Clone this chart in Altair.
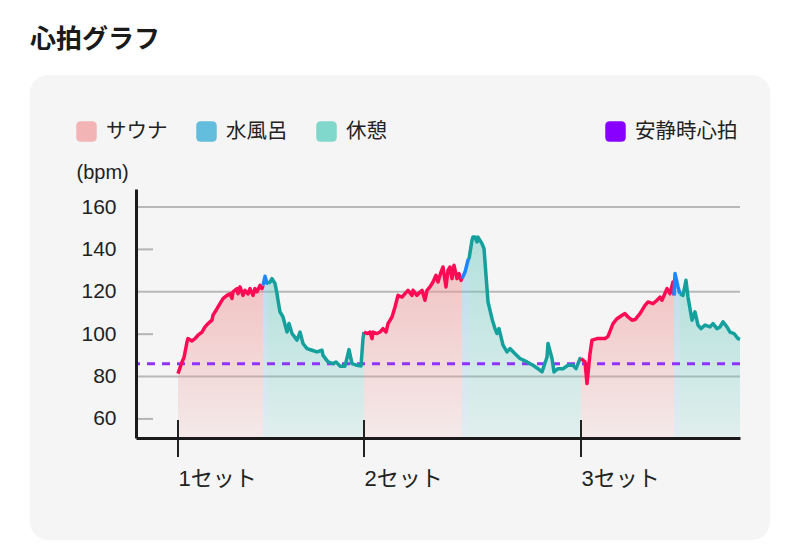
import altair as alt
import pandas as pd

FONT = "Liberation Sans, Noto Sans CJK JP, sans-serif"

# ---- categories / colours -------------------------------------------------
PHASES = ["サウナ", "水風呂", "休憩"]
LEGEND_COLORS = ["#f2b4b4", "#63bddc", "#80d7cb"]
LINE_COLORS = ["#ff0a54", "#1c86ff", "#14a09c"]
REST_LABEL = ["安静時心拍"]
REST_COLOR = ["#8800ff"]
RESTING_HR = 86

SET_LABELS = ["1セット", "2セット", "3セット"]
SET_STARTS = [0.0, 18.6, 40.3]

Y_TICKS = [60, 80, 100, 120, 140, 160]
GRID_VALUES = [80, 120, 160]
MINOR_VALUES = [60, 100, 140]

# ---- heart-rate series (minutes, bpm), one array pair per phase segment ---
S1_T = [0.0, 0.4, 0.6, 0.9, 1.0, 1.4, 1.7, 2.0, 2.4, 2.7, 3.0, 3.4, 3.5, 3.9, 4.2, 4.5, 4.9,
        5.2, 5.4, 5.5, 5.9, 6.0, 6.2, 6.5, 6.7, 7.0, 7.2, 7.5, 7.7, 7.9, 8.2, 8.4, 8.5]
S1_HR = [81.4, 86.9, 89.0, 96.3, 97.9, 96.8, 97.9, 99.5, 101.0, 103.4, 105.0, 106.6, 109.0,
         112.0, 114.4, 116.8, 118.3, 119.1, 116.8, 120.0, 121.5, 119.1, 122.3, 118.3, 120.7,
         119.0, 121.5, 118.3, 121.5, 120.0, 123.0, 121.5, 123.0]
W1_T = [8.5, 8.7, 8.9, 9.0]
W1_HR = [123.0, 127.3, 124.0, 124.0]
R1_T = [9.0, 9.2, 9.4, 9.7, 9.9, 10.0, 10.2, 10.5, 10.9, 11.1, 11.4, 11.9, 12.2, 12.5, 12.9,
        13.4, 13.9, 14.4, 14.5, 15.0, 15.5, 15.8, 16.2, 16.7, 17.1, 17.4, 17.9, 18.3, 18.5, 18.6]
R1_HR = [124.0, 124.6, 126.2, 123.9, 119.1, 116.0, 110.5, 108.1, 101.0, 105.0, 100.3, 97.2,
         101.0, 95.6, 93.2, 92.4, 91.6, 92.4, 90.0, 86.9, 86.1, 86.9, 84.9, 84.9, 92.7, 86.1,
         85.3, 85.0, 98.0, 101.0]
S2_T = [18.6, 18.9, 19.2, 19.4, 19.5, 19.9, 20.2, 20.5, 20.8, 21.0, 21.4, 21.7, 22.0, 22.4,
        22.7, 23.0, 23.4, 23.5, 23.9, 24.2, 24.4, 24.7, 24.9, 25.2, 25.5, 25.8, 26.0, 26.3,
        26.5, 26.8, 27.0, 27.2, 27.4, 27.6, 27.9, 28.1, 28.3, 28.4]
S2_HR = [101.0, 100.3, 101.0, 97.9, 101.0, 100.3, 101.0, 102.6, 101.0, 105.0, 108.1, 112.8,
         118.3, 117.5, 119.1, 120.7, 118.3, 120.7, 118.3, 119.9, 120.7, 116.0, 120.7, 122.3,
         124.6, 127.8, 124.6, 129.3, 131.7, 122.3, 130.1, 131.7, 126.2, 132.5, 126.2, 128.6,
         125.4, 126.2]
W2_T = [28.4, 28.7, 29.0, 29.1]
W2_HR = [126.2, 129.3, 134.9, 135.5]
R2_T = [29.1, 29.4, 29.5, 29.7, 29.9, 30.0, 30.4, 30.6, 30.8, 31.0, 31.4, 31.7, 31.9, 32.1,
        32.5, 32.9, 33.2, 33.7, 34.2, 34.9, 35.5, 36.0, 36.4, 36.9, 37.0, 37.4, 37.6, 38.0,
        38.5, 39.0, 39.5, 39.8, 40.2, 40.3]
R2_HR = [135.5, 144.3, 145.8, 145.8, 143.5, 145.8, 142.7, 140.4, 127.8, 115.2, 107.3, 102.6,
         100.3, 102.6, 94.8, 91.6, 93.2, 90.8, 88.5, 86.9, 85.3, 83.7, 82.2, 89.2, 95.6, 88.5,
         82.2, 83.7, 83.7, 85.3, 85.3, 83.7, 88.5, 88.5]
S3_T = [40.3, 40.7, 40.9, 41.2, 41.4, 41.9, 42.7, 43.0, 43.5, 43.9, 44.4, 44.7, 45.0, 45.4,
        45.7, 46.2, 46.7, 47.0, 47.5, 47.9, 48.2, 48.4, 48.9, 49.2, 49.5, 49.6]
S3_HR = [88.5, 86.9, 76.7, 90.8, 97.2, 97.9, 97.9, 99.0, 105.0, 107.3, 108.9, 109.7, 108.1,
         106.6, 106.9, 109.7, 113.6, 115.2, 114.4, 116.0, 117.5, 116.0, 121.5, 119.1, 124.6,
         118.3]
W3_T = [49.6, 49.7, 50.0, 50.2]
W3_HR = [118.3, 128.6, 122.3, 119.1]
R3_T = [50.2, 50.5, 50.8, 51.0, 51.4, 51.7, 52.0, 52.3, 52.7, 53.2, 53.5, 53.9, 54.2, 54.5,
        54.9, 55.2, 55.6, 56.0, 56.2]
R3_HR = [119.1, 118.3, 125.4, 117.5, 106.6, 110.5, 104.3, 102.6, 104.3, 103.4, 105.0, 102.6,
         103.4, 105.8, 103.4, 101.0, 100.3, 97.9, 97.5]

SEGMENTS = [
    ("サウナ", S1_T, S1_HR), ("水風呂", W1_T, W1_HR), ("休憩", R1_T, R1_HR),
    ("サウナ", S2_T, S2_HR), ("水風呂", W2_T, W2_HR), ("休憩", R2_T, R2_HR),
    ("サウナ", S3_T, S3_HR), ("水風呂", W3_T, W3_HR), ("休憩", R3_T, R3_HR),
]

rows = []
for seg_id, (phase, ts, hrs) in enumerate(SEGMENTS):
    for t, hr in zip(ts, hrs):
        rows.append({"seg": seg_id, "phase": phase, "t": t, "hr": hr})
hr_df = pd.DataFrame(rows)

# ---- scales / axes ---------------------------------------------------------
X_MIN, X_MAX = -4.2, 56.2
Y_MIN, Y_MAX = 51, 168.5
X_SCALE = alt.Scale(domain=[X_MIN, X_MAX], nice=False, zero=False)
Y_SCALE = alt.Scale(domain=[Y_MIN, Y_MAX], nice=False, zero=False)

label_expr = ""
for v, lab in zip(SET_STARTS[:-1], SET_LABELS[:-1]):
    label_expr += f"datum.value == {v} ? '{lab}' : "
label_expr += f"'{SET_LABELS[-1]}'"

X_AXIS = alt.Axis(values=SET_STARTS, labelExpr=label_expr, ticks=False, grid=False,
                  domainColor="#1a1a1a", domainWidth=3, labelAlign="left",
                  labelBaseline="top", labelPadding=30, labelFontSize=22, labelFont=FONT,
                  labelColor="#222222", title=None, labelOverlap=False, labelFlush=False,
                  zindex=1)
Y_AXIS = alt.Axis(values=Y_TICKS, ticks=False, grid=False, domainColor="#1a1a1a",
                  domainWidth=3, labelPadding=20, labelFontSize=21, labelFont=FONT,
                  labelColor="#222222", title="(bpm)", titleAngle=0, titleX=-60,
                  titleY=-17, titleAlign="left", titleBaseline="middle", titleFontSize=20,
                  titleFontWeight="normal", titleFont=FONT, titleColor="#222222", zindex=1)


def X(field):
    return alt.X(field, type="quantitative", scale=X_SCALE, axis=X_AXIS)


def Y(field):
    return alt.Y(field, type="quantitative", scale=Y_SCALE, axis=Y_AXIS)


one = pd.DataFrame({"k": [0]})
W, H = 604, 249

panel = alt.Chart(one).mark_rect(cornerRadius=18, color="#f5f5f5").encode(
    x=alt.value(-106), x2=alt.value(634), y=alt.value(-114), y2=alt.value(351))

grid = alt.Chart(pd.DataFrame({"v": GRID_VALUES})).mark_rule(
    color="#b8b8b8", strokeWidth=2).encode(y=Y("v"))

minor = alt.Chart(pd.DataFrame({"v": MINOR_VALUES})).mark_rule(
    color="#b5b5b5", strokeWidth=2).encode(y=Y("v"), x=alt.value(0), x2=alt.value(17))


def grad(rgb, a_top, a_bot):
    return alt.Gradient(
        gradient="linear",
        stops=[alt.GradientStop(color=f"rgba({rgb},{a_top})", offset=0),
               alt.GradientStop(color=f"rgba({rgb},{a_bot})", offset=1)],
        x1=1, x2=1, y1=0, y2=1)


AREA_FILLS = {
    "サウナ": grad("238,150,150", 0.52, 0.12),
    "水風呂": grad("120,190,225", 0.45, 0.15),
    "休憩": grad("100,200,190", 0.46, 0.14),
}

areas = [
    alt.Chart(hr_df).transform_filter(alt.datum.phase == p).mark_area(
        color=AREA_FILLS[p]).encode(x=X("t"), y=Y("hr"), y2=alt.datum(Y_MIN), detail="seg:N")
    for p in PHASES
]

rest_line = alt.Chart(one).mark_rule(
    color="#9033ff", strokeWidth=3, strokeDash=[8, 7]).encode(y=alt.datum(RESTING_HR))

set_ticks = alt.Chart(pd.DataFrame({"t": SET_STARTS})).mark_rule(
    color="#222222", strokeWidth=2).encode(x=X("t"), y=alt.value(231), y2=alt.value(268))

hr_line = alt.Chart(hr_df).mark_line(strokeWidth=3.5, strokeJoin="round").encode(
    x=X("t"), y=Y("hr"),
    stroke=alt.Stroke("phase:N", scale=alt.Scale(domain=PHASES, range=LINE_COLORS),
                      legend=None),
    detail="seg:N")

ROUND_SQ = ("M -0.55 -1 L 0.55 -1 Q 1 -1 1 -0.55 L 1 0.55 Q 1 1 0.55 1 L -0.55 1 "
            "Q -1 1 -1 0.55 L -1 -0.55 Q -1 -1 -0.55 -1 Z")


def legend(x, y):
    return alt.Legend(orient="none", legendX=x, legendY=y, direction="horizontal",
                      title=None, symbolType=ROUND_SQ, symbolSize=420, symbolOpacity=1,
                      symbolStrokeWidth=0, labelFontSize=20.5, labelFont=FONT,
                      labelColor="#222222", labelOffset=9, columnPadding=28, padding=0)


leg_phase = alt.Chart(pd.DataFrame({"name": PHASES})).mark_square(opacity=0).encode(
    fill=alt.Fill("name:N", scale=alt.Scale(domain=PHASES, range=LEGEND_COLORS),
                  legend=legend(-60, -68)),
    x=alt.value(0), y=alt.value(0))

leg_rest = alt.Chart(pd.DataFrame({"name": REST_LABEL})).mark_square(opacity=0).encode(
    fill=alt.Fill("name:N", scale=alt.Scale(domain=REST_LABEL, range=REST_COLOR),
                  legend=legend(469, -68)),
    x=alt.value(0), y=alt.value(0))

chart = alt.layer(
    panel, grid, minor, *areas, rest_line, set_ticks, hr_line, leg_phase, leg_rest
).resolve_scale(fill="independent").properties(
    width=W, height=H,
    autosize=alt.AutoSizeParams(type="none"),
    padding={"left": 136, "top": 189, "right": 60, "bottom": 118},
    title=alt.TitleParams("心拍グラフ", anchor="start", fontSize=26, fontWeight="bold",
                          font=FONT, color="#1a1a1a", offset=23, baseline="bottom", dy=27),
).configure(background="white").configure_view(stroke=None)

chart.save("out.html", embed_options={"renderer": "svg", "actions": False})
